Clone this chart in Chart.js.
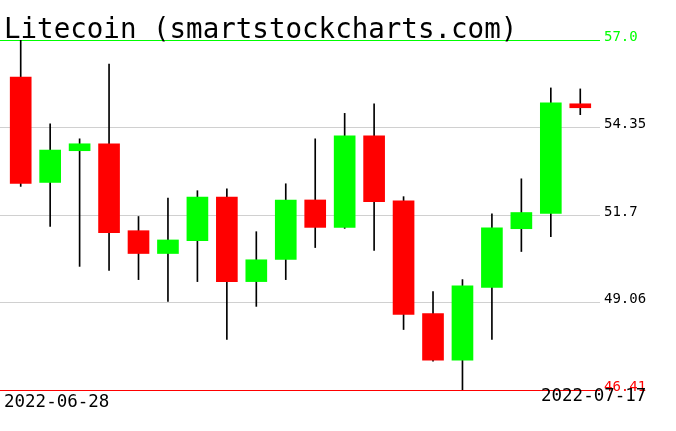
<!DOCTYPE html>
<html>
<head>
<meta charset="utf-8">
<script src="https://cdn.jsdelivr.net/npm/chart.js@4.4.0/dist/chart.umd.min.js"></script>
<style>
  body { margin: 0; background: #fff; }
  #wrap { width: 676px; height: 431px; position: relative; }
</style>
</head>
<body>
<div id="wrap"><canvas id="candles"></canvas></div>
<script>
var dates = ["2022-06-28", "2022-06-29", "2022-06-30", "2022-07-01", "2022-07-02",
             "2022-07-03", "2022-07-04", "2022-07-05", "2022-07-06", "2022-07-07",
             "2022-07-08", "2022-07-09", "2022-07-10", "2022-07-11", "2022-07-12",
             "2022-07-13", "2022-07-14", "2022-07-15", "2022-07-16", "2022-07-17"];
var opens  = [55.88, 52.69, 53.65, 53.86, 51.23, 50.54, 50.93, 52.25, 49.69, 50.36,
              52.16, 51.33, 54.10, 52.13, 48.72, 47.31, 49.51, 51.29, 51.75, 55.07];
var highs  = [57.00, 54.46, 54.01, 56.27, 51.66, 52.22, 52.44, 52.50, 51.20, 52.65,
              54.01, 54.78, 55.07, 52.26, 49.39, 49.75, 51.74, 52.80, 55.55, 55.52];
var lows   = [52.57, 51.36, 50.15, 50.03, 49.75, 49.09, 49.69, 47.94, 48.94, 49.75,
              50.72, 51.30, 50.63, 48.24, 47.28, 46.41, 47.94, 50.60, 51.05, 54.74];
var closes = [52.66, 53.67, 53.86, 51.17, 50.54, 50.95, 52.25, 49.69, 50.35, 52.16,
              51.33, 54.10, 52.11, 48.70, 47.31, 49.56, 51.32, 51.78, 55.10, 54.95];
var tickValues = [57.0, 54.35, 51.7, 49.06, 46.41];
var tickLabels = ["57.0", "54.35", "51.7", "49.06", "46.41"];
var title = "Litecoin (smartstockcharts.com)";

var UP = '#00ff00', DOWN = '#ff0000';

/**
 * Bodies and wicks as floating bars
 */
var bodyData = [], wickData = [], bodyColors = [];
for (var i = 0; i < dates.length; i++) {
    bodyData.push({x: i, y: [opens[i], closes[i]]});
    wickData.push({x: i, y: [lows[i], highs[i]]});
    bodyColors.push(closes[i] >= opens[i] ? UP : DOWN);
}

var textPlugin = {
    id: 'textPlugin',
    afterDraw: function(chart) {
        var ctx = chart.ctx;
        ctx.save();
        ctx.fillStyle = '#000';
        ctx.textBaseline = 'alphabetic';
        ctx.textAlign = 'left';
        ctx.font = '27.5px "DejaVu Sans Mono"';
        ctx.fillText(title, 4, 38);
        ctx.font = '17.5px "DejaVu Sans Mono"';
        ctx.fillText(dates[0], 4, 407);
        ctx.fillText(dates[dates.length - 1], 541, 401);
        ctx.restore();
    }
};

var ctx = document.getElementById("candles").getContext("2d");
new Chart(ctx, {
    type: 'bar',
    data: {
        datasets: [
            {
                label: 'body',
                data: bodyData,
                backgroundColor: bodyColors,
                borderWidth: 0,
                barThickness: 21,
                grouped: false,
                order: 1
            },
            {
                label: 'wick',
                data: wickData,
                backgroundColor: '#000000',
                borderWidth: 0,
                barThickness: 1,
                grouped: false,
                order: 2
            }
        ]
    },
    options: {
        responsive: true,
        maintainAspectRatio: false,
        animation: false,
        layout: {padding: {left: 0, top: 40, right: 0, bottom: 41}},
        plugins: {
            legend: {display: false},
            tooltip: {enabled: false}
        },
        scales: {
            x: {
                type: 'linear',
                display: false,
                offset: false,
                min: -0.703,
                max: 19.67
            },
            y: {
                position: 'right',
                min: 46.41,
                max: 57.0,
                afterBuildTicks: function(scale) {
                    scale.ticks = tickValues.map(function(v) { return {value: v}; });
                },
                afterFit: function(scale) {
                    scale.width = 76;
                },
                border: {display: false},
                grid: {
                    drawTicks: false,
                    lineWidth: 1,
                    color: function(c) {
                        if (!c.tick) return '#d0d0d0';
                        if (c.tick.value === tickValues[0]) return UP;
                        if (c.tick.value === tickValues[tickValues.length - 1]) return DOWN;
                        return '#d0d0d0';
                    }
                },
                ticks: {
                    padding: 4,
                    labelOffset: -3,
                    font: {family: '"DejaVu Sans Mono"', size: 14},
                    color: function(c) {
                        if (c.index === 0) return UP;
                        if (c.index === tickValues.length - 1) return DOWN;
                        return '#000';
                    },
                    callback: function(value, index) {
                        return tickLabels[index];
                    }
                }
            }
        }
    },
    plugins: [textPlugin]
});
</script>
</body>
</html>
